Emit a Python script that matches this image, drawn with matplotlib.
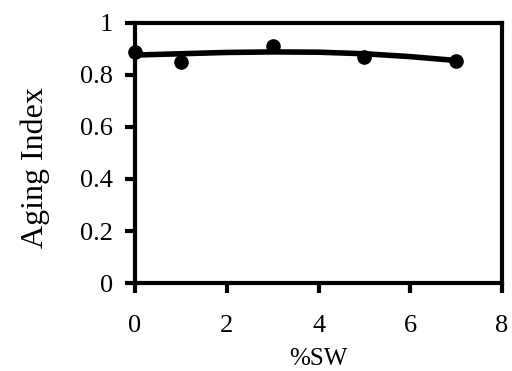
import matplotlib
matplotlib.use("Agg")
import matplotlib.pyplot as plt

sw = [0, 1, 3, 5, 7]
aging = [0.889, 0.850, 0.910, 0.867, 0.854]
trend_x = [0, 1, 2, 3, 4, 5, 6, 7]
trend_y = [0.876, 0.881, 0.886, 0.888, 0.887, 0.881, 0.870, 0.855]

plt.rcParams['font.family'] = ['Liberation Serif', 'DejaVu Serif']

fig = plt.figure(figsize=(5.12, 3.71), dpi=100)
ax = fig.add_axes([0.2637, 0.237, 0.717, 0.7016])

ax.plot(trend_x, trend_y, color='black', lw=4, solid_capstyle='butt', zorder=3)
ax.plot(sw, aging, 'o', color='black', ms=9.5, clip_on=False, zorder=4)

ax.set_xlim(0, 8)
ax.set_ylim(0, 1)
ax.set_xticks([0, 2, 4, 6, 8])
ax.set_yticks([0, 0.2, 0.4, 0.6, 0.8, 1])
ax.set_yticklabels(['0', '0.2', '0.4', '0.6', '0.8', '1'])
for s in ax.spines.values():
    s.set_linewidth(3)
ax.tick_params(direction='out', length=7, width=3, labelsize=19)
ax.tick_params(axis='x', pad=16)
ax.tick_params(axis='y', pad=9)
ax.set_xlabel('%SW', fontsize=18, labelpad=8)
ax.set_ylabel('Aging Index', fontsize=23)
ax.yaxis.set_label_coords(-0.2316, 0.442)

fig.savefig('out.png', dpi=100)
